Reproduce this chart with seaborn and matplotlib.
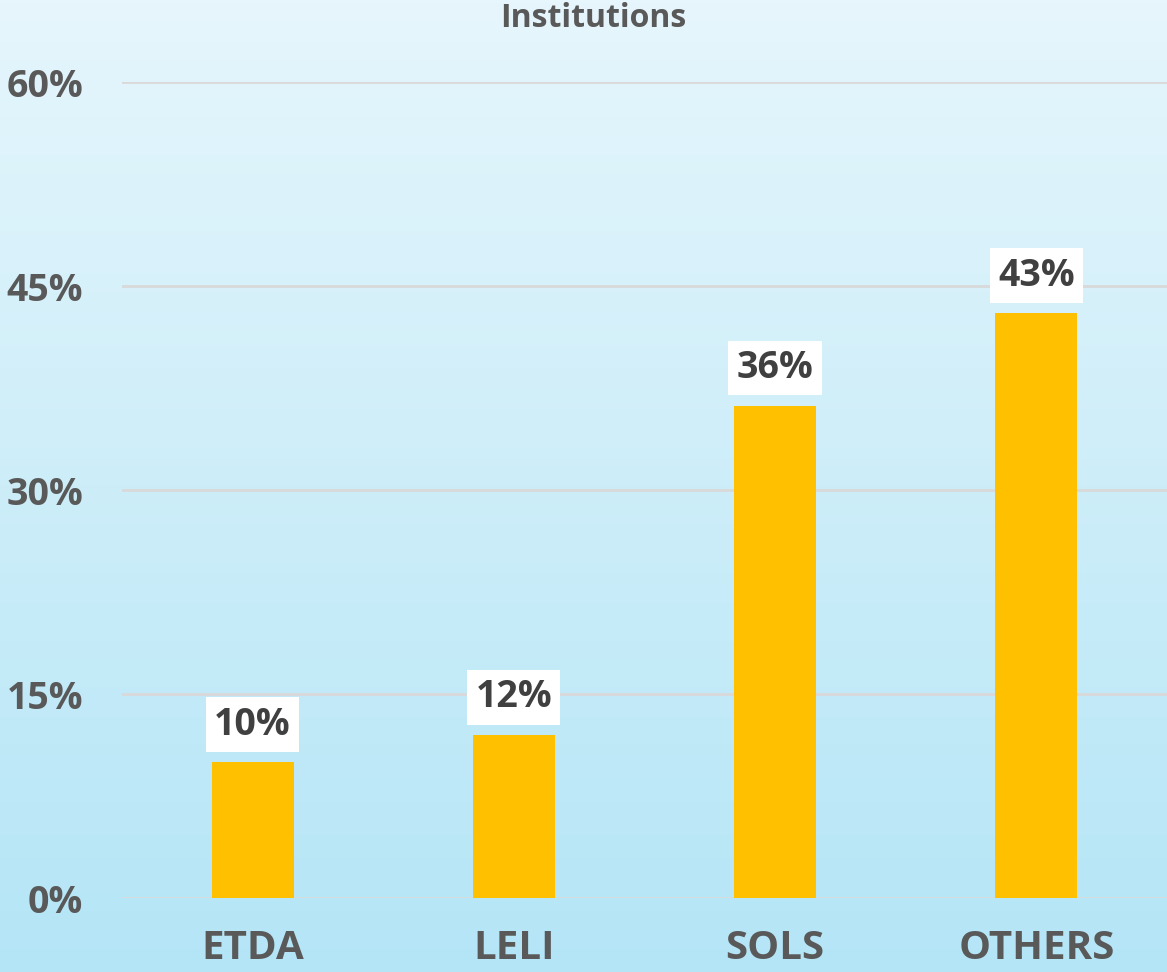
import numpy as np
import pandas as pd
import seaborn as sns
import matplotlib.pyplot as plt
from matplotlib.colors import LinearSegmentedColormap
from matplotlib.ticker import FuncFormatter

categories = ["ETDA", "LELI", "SOLS", "OTHERS"]
shares = [10, 12, 36.2, 43]
labels = ["10%", "12%", "36%", "43%"]
yticks = [0, 15, 30, 45, 60]

df = pd.DataFrame({"Institution": categories, "Share": shares})

sns.set_theme(style="white")
plt.rcParams["font.family"] = ["Open Sans", "DejaVu Sans"]

fig = plt.figure(figsize=(11.67, 9.72), dpi=100)

# gradient background over the whole figure
bg = fig.add_axes([0, 0, 1, 1], zorder=0)
cmap = LinearSegmentedColormap.from_list("sky", ["#e6f6fc", "#b4e5f6"])
bg.imshow(np.linspace(0, 1, 256).reshape(-1, 1), aspect="auto", cmap=cmap,
          extent=[0, 1, 0, 1])
bg.set_axis_off()

ax = fig.add_axes([0.1045, 0.0761, 0.8955, 0.8395], zorder=1)
ax.patch.set_alpha(0)

sns.barplot(data=df, x="Institution", y="Share", color="#FFC000",
            width=0.314, saturation=1, linewidth=0, ax=ax, zorder=3)

ax.set_ylim(0, 60)
ax.set_xlim(-0.5, 3.5)
ax.set_yticks(yticks)
ax.yaxis.set_major_formatter(FuncFormatter(lambda v, p: f"{v:.0f}%"))
ax.grid(axis="y", color="#d9d9d9", linewidth=2, zorder=0)
ax.set_axisbelow(True)
for s in ax.spines.values():
    s.set_visible(False)
ax.tick_params(axis="both", length=0, labelcolor="#595959")
ax.tick_params(axis="y", pad=28, labelsize=27)
ax.tick_params(axis="x", pad=22, labelsize=29)
for t in ax.get_xticklabels() + ax.get_yticklabels():
    t.set_fontweight("bold")
ax.set_xlabel("")
ax.set_ylabel("")

for i, (v, lab) in enumerate(zip(shares, labels)):
    ax.annotate(lab, (i, v), xytext=(0, 27), textcoords="offset points",
                ha="center", va="center", fontsize=27, fontweight="bold",
                color="#404040", zorder=5,
                bbox=dict(boxstyle="square,pad=0.22", fc="white", ec="none"))

fig.text(0.508, 0.981, "Institutions", ha="center", va="center", fontsize=23,
         fontweight="bold", color="#595959")

fig.savefig("out.png", dpi=100)
